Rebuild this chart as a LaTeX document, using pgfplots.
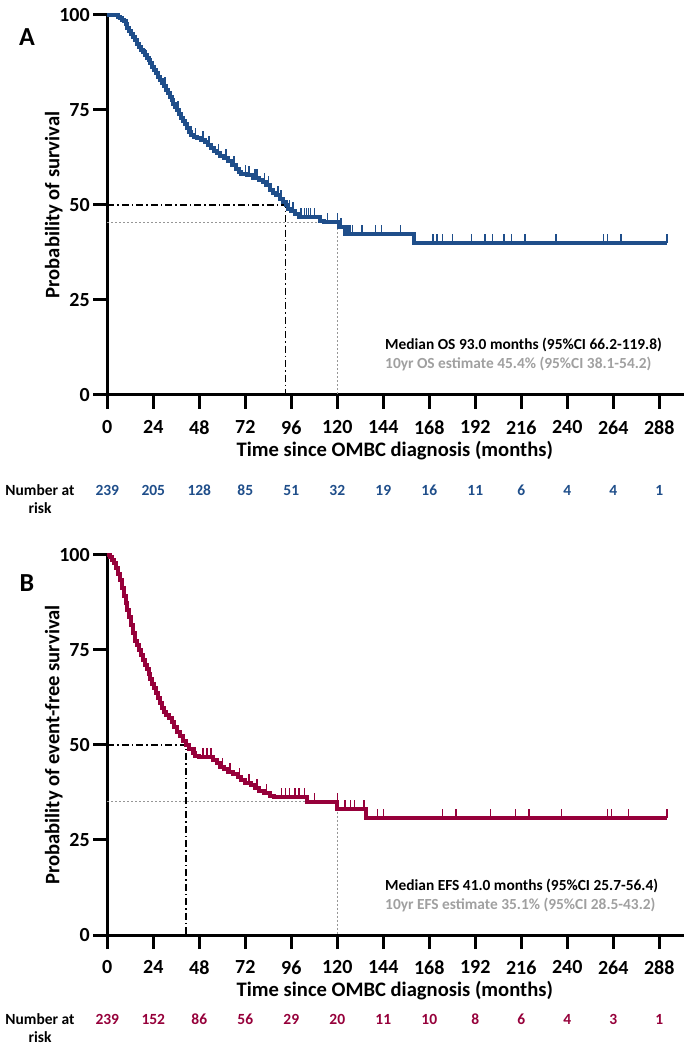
\documentclass[border=0pt]{standalone}
\usepackage{pgfplots}
\pgfplotsset{compat=1.18}
\usepackage{fontspec}
\setmainfont{Carlito}
\definecolor{osblue}{RGB}{31,78,138}
\definecolor{efsred}{RGB}{150,0,58}
\definecolor{txtgray}{RGB}{160,160,160}
\definecolor{dotgray}{RGB}{150,150,150}
\pgfdeclareplotmark{cens}{%
  \pgfpathmoveto{\pgfpoint{0pt}{0pt}}%
  \pgfpathlineto{\pgfpoint{0pt}{\pgfplotmarksize}}%
  \pgfusepathqstroke}
\newcommand{\tickfont}{\fontsize{20}{24}\selectfont\bfseries}
\newcommand{\labfont}{\fontsize{20.6}{24}\selectfont\bfseries}
\newcommand{\riskfont}{\fontsize{15.5}{18}\selectfont\bfseries}
\newcommand{\notefont}{\fontsize{15.4}{18}\selectfont\bfseries}
\pgfplotsset{
  kmstyle/.style={
    scale only axis, width=575pt, height=380pt,
    xmin=0, xmax=300, ymin=0, ymax=100,
    axis x line*=bottom, axis y line*=left,
    axis line style={-, line width=3pt, line cap=rect},
    xtick={0,24,...,288}, ytick={0,25,50,75,100},
    tick align=outside, major tick length=14pt,
    tick style={line width=3pt, black},
    every tick label/.append style={font=\tickfont},
    xticklabel style={yshift=-8pt},
    /pgf/number format/assume math mode=true,
    clip=false,
    xlabel={Time since OMBC diagnosis (months)},
    label style={font=\labfont},
    xlabel style={at={(axis description cs:0.5,-0.147)}, anchor=center},
    ylabel style={at={(axis description cs:-0.093,0.5)}, anchor=center},
  },
  curve/.style={const plot, line width=4pt, no marks},
  censor/.style={only marks, mark=cens, mark size=9pt, line width=1.5pt},
}
\begin{document}
\begin{tikzpicture}[x=1pt,y=1pt]
\useasboundingbox (0,0) rectangle (688,1045);
% ---------------- Panel A ----------------
\begin{axis}[kmstyle, at={(107.3pt,650pt)}, anchor=south west,
  ylabel={Probability of survival}]
\addplot[dotgray, line width=1pt, dash pattern=on 2pt off 2pt] coordinates {(0,45.4) (120,45.4) (120,0)};
\addplot[black, line width=1.5pt, dash pattern=on 7pt off 3pt on 1.5pt off 3pt] coordinates {(0,50) (93,50) (93,0)};
\addplot[curve, osblue] coordinates {
(0,100) (5.5,99.6) (6.5,99.2) (7.5,98.7) (8.5,98.3) (9.5,97.5) (10.5,96.6) (11.5,95.8)
(12.5,95.0) (13.5,94.1) (14.5,93.3) (15.5,92.4) (16.5,91.6) (17.5,90.7) (18.5,90.3)
(19.5,89.4) (20.5,88.6) (21.5,88.1) (22.5,87.3) (23.5,86.4) (24.5,85.6) (25.5,84.7)
(26.5,83.8) (27.5,83.0) (28.5,82.1) (29.5,81.2) (30.5,80.3) (31.5,79.4) (32.5,78.5)
(33.5,77.6) (34.5,76.7) (35.5,75.8) (36.5,74.9) (37.5,74.0) (38.5,73.0) (39.5,72.1)
(40.5,71.2) (41.5,70.3) (42.5,69.3) (43.5,68.4) (45,68.0) (47,67.5) (49,67.0) (51,66.5)
(52.5,65.8) (54,64.9) (55.5,64.2) (57,63.6) (59,63.0) (61,62.3) (63,61.5) (65,60.6)
(67,59.6) (68.5,58.7) (70,58.2) (73,57.8) (76,57.2) (79,56.6) (81,56.0) (83,55.2)
(85,54.0) (86.5,53.2) (88,52.5) (90,51.6) (91.5,50.8) (93,50.0) (94.5,49.0) (96,48.3)
(98,47.5) (100,46.8) (111,45.9) (113,45.4) (121,44.2) (124,42.4) (160,40.1) (292,40.1)
};
\addplot[censor, osblue] coordinates {
(20,88.6) (30,81.2) (37,74.9) (44,68.4) (46,68.0) (50,67.0) (53,65.8) (58,63.6) (62,62.3)
(66,60.6) (72,58.2) (74,57.8) (77,57.2) (78,57.2) (82,56.0) (84,55.2) (89,52.5) (90.5,51.6)
(95,49.0) (97,48.3) (101,46.8) (103,46.8) (104,46.8) (105,46.8) (106,46.8) (108,46.8)
(115,45.4) (120,45.4) (122,44.2) (125,42.4) (126,42.4) (127,42.4) (128,42.4) (133,42.4)
(140,42.4) (143,42.4) (153,42.4) (170,40.1) (172,40.1) (175,40.1) (180,40.1) (190,40.1)
(197,40.1) (201,40.1) (207,40.1) (211,40.1) (218,40.1) (234,40.1) (259,40.1) (261,40.1)
(268,40.1) (292,40.1)
};
\node[font=\riskfont, text=osblue] at (axis cs:0,-25.1) {239};
\node[font=\riskfont, text=osblue] at (axis cs:24,-25.1) {205};
\node[font=\riskfont, text=osblue] at (axis cs:48,-25.1) {128};
\node[font=\riskfont, text=osblue] at (axis cs:72,-25.1) {85};
\node[font=\riskfont, text=osblue] at (axis cs:96,-25.1) {51};
\node[font=\riskfont, text=osblue] at (axis cs:120,-25.1) {32};
\node[font=\riskfont, text=osblue] at (axis cs:144,-25.1) {19};
\node[font=\riskfont, text=osblue] at (axis cs:168,-25.1) {16};
\node[font=\riskfont, text=osblue] at (axis cs:192,-25.1) {11};
\node[font=\riskfont, text=osblue] at (axis cs:216,-25.1) {6};
\node[font=\riskfont, text=osblue] at (axis cs:240,-25.1) {4};
\node[font=\riskfont, text=osblue] at (axis cs:264,-25.1) {4};
\node[font=\riskfont, text=osblue] at (axis cs:288,-25.1) {1};
\end{axis}
\node[font=\fontsize{26}{30}\selectfont\bfseries] at (27,1045-37) {A};
\node[font=\notefont, anchor=west, inner sep=0pt] at (385,1045-345) {Median OS 93.0 months (95\%CI 66.2-119.8)};
\node[font=\notefont, anchor=west, inner sep=0pt, text=txtgray] at (385,1045-364) {10yr OS estimate 45.4\% (95\%CI 38.1-54.2)};
\node[font=\riskfont, align=center, inner sep=0pt] at (40,1045-499.5) {Number at\\risk};
% ---------------- Panel B ----------------
\begin{axis}[kmstyle, at={(107.3pt,110pt)}, anchor=south west,
  ylabel={Probability of event-free survival}]
\addplot[dotgray, line width=1pt, dash pattern=on 2pt off 2pt] coordinates {(0,35.1) (120,35.1) (120,0)};
\addplot[black, line width=1.5pt, dash pattern=on 7pt off 3pt on 1.5pt off 3pt] coordinates {(0,50) (41,50) (41,0)};
\addplot[curve, efsred] coordinates {
(0,100) (1.5,99.6) (2.5,98.7) (3.5,97.9) (4.5,96.6) (5.5,95.0) (6.5,93.3) (7.5,91.2)
(8.5,89.1) (9.5,87.4) (10.5,85.4) (11.5,83.7) (12.5,81.6) (13.5,79.5) (14.5,77.4)
(15.5,76.2) (16.5,75.0) (17.5,73.6) (18.5,72.4) (19.5,71.1) (20.5,69.9) (21.5,68.6)
(22.5,67.4) (23.5,66.1) (24.5,64.9) (25.5,63.6) (26.5,62.3) (27.5,61.1) (28.5,59.8)
(29.5,58.6) (30.5,57.8) (32,57.0) (33.5,56.0) (35,54.8) (36.5,53.5) (38,52.3) (39.5,51.0)
(41,50.0) (42.5,48.9) (44.5,48.0) (46,47.2) (48,46.8) (55,46.0) (57,45.2) (59,44.3)
(61,43.6) (63,43.0) (65.5,42.4) (68,41.6) (70,40.8) (72,40.0) (75,39.4) (77,38.6)
(79,38.0) (82,37.4) (85,36.6) (87,36.2) (104,35.1) (120,33.2) (135,30.8) (292,30.8)
};
\addplot[censor, efsred] coordinates {
(46,47.2) (50,46.8) (52,46.8) (54,46.8) (60,44.3) (64,43.0) (69,41.6) (74,40.0) (78,38.6)
(83,37.4) (91,36.2) (93,36.2) (95,36.2) (98,36.2) (100,36.2) (103,36.2) (108,35.1)
(120,35.1) (124,33.2) (127,33.2) (129,33.2) (134,33.2) (141,30.8) (144,30.8) (175,30.8)
(182,30.8) (200,30.8) (213,30.8) (220,30.8) (237,30.8) (261,30.8) (263,30.8) (272,30.8)
(292,30.8)
};
\node[font=\riskfont, text=efsred] at (axis cs:0,-22.1) {239};
\node[font=\riskfont, text=efsred] at (axis cs:24,-22.1) {152};
\node[font=\riskfont, text=efsred] at (axis cs:48,-22.1) {86};
\node[font=\riskfont, text=efsred] at (axis cs:72,-22.1) {56};
\node[font=\riskfont, text=efsred] at (axis cs:96,-22.1) {29};
\node[font=\riskfont, text=efsred] at (axis cs:120,-22.1) {20};
\node[font=\riskfont, text=efsred] at (axis cs:144,-22.1) {11};
\node[font=\riskfont, text=efsred] at (axis cs:168,-22.1) {10};
\node[font=\riskfont, text=efsred] at (axis cs:192,-22.1) {8};
\node[font=\riskfont, text=efsred] at (axis cs:216,-22.1) {6};
\node[font=\riskfont, text=efsred] at (axis cs:240,-22.1) {4};
\node[font=\riskfont, text=efsred] at (axis cs:264,-22.1) {3};
\node[font=\riskfont, text=efsred] at (axis cs:288,-22.1) {1};
\end{axis}
\node[font=\fontsize{26}{30}\selectfont\bfseries] at (27,1045-583) {B};
\node[font=\notefont, anchor=west, inner sep=0pt] at (385,1045-886) {Median EFS 41.0 months (95\%CI 25.7-56.4)};
\node[font=\notefont, anchor=west, inner sep=0pt, text=txtgray] at (385,1045-905) {10yr EFS estimate 35.1\% (95\%CI 28.5-43.2)};
\node[font=\riskfont, align=center, inner sep=0pt] at (40,1045-1028) {Number at\\risk};
\end{tikzpicture}
\end{document}
